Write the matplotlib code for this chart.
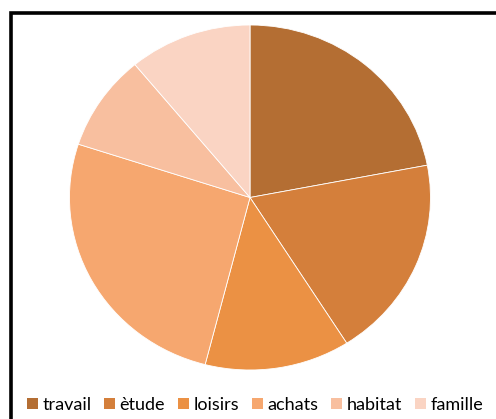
import matplotlib.pyplot as plt
from matplotlib.patches import Rectangle, Patch

labels = ["travail", "ètude", "loisirs", "achats", "habitat", "famille"]
values = [22, 19, 13, 26, 9, 11]
colors = ["#B46E33", "#D47F3B", "#EB9144", "#F6A76F", "#F8BF9F", "#FAD4C3"]

fig = plt.figure(figsize=(4.96, 4.19), dpi=100)
W, H = 496, 419

# outer black frame (runs off the right/bottom edge as in the reference)
fig.patches.append(Rectangle((10.5 / W, -0.05), 1.1, 1 - 13.5 / H + 0.05,
                             transform=fig.transFigure, fill=False,
                             edgecolor="black", linewidth=2.6, zorder=0))

# pie is slightly squashed in the reference, so keep aspect auto
ax = fig.add_axes([69.5 / W, 49 / H, 361 / W, 345 / H])
ax.pie(values, colors=colors, startangle=90, counterclock=False,
       wedgeprops=dict(edgecolor="white", linewidth=0.6))
ax.set_aspect("auto")
ax.set_xlim(-1, 1)
ax.set_ylim(-1, 1)

handles = [Patch(facecolor=c, edgecolor="none") for c in colors]
fig.legend(handles, labels, loc="center", bbox_to_anchor=(255 / W, 1 - 405 / H),
           ncol=6, frameon=False, handlelength=0.6,
           handleheight=0.6, handletextpad=0.25, columnspacing=0.72,
           prop={"family": "Lato", "size": 13})

fig.savefig("out.png", dpi=100)
